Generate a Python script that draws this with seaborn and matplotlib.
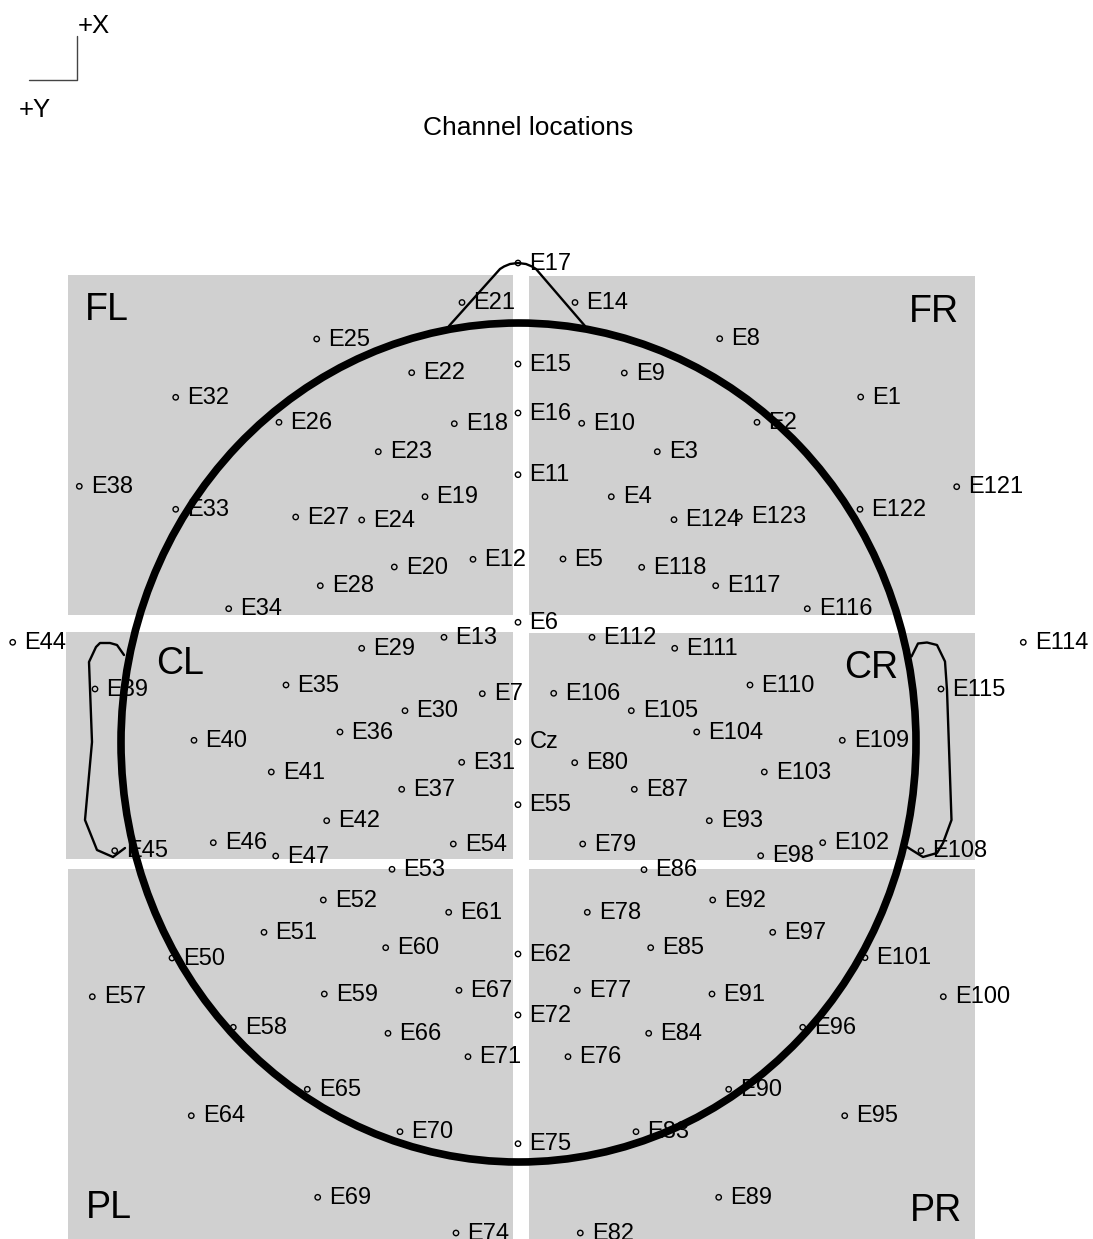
import matplotlib
matplotlib.use('Agg')
import matplotlib.pyplot as plt
import seaborn as sns
from matplotlib.patches import Rectangle, Ellipse

sns.set_style('white')
plt.rcParams['font.family'] = ['Liberation Sans', 'DejaVu Sans']
plt.rcParams['text.color'] = 'black'

############################
########## data ############
############################

# channel names and positions (image units, y pointing down)
ch_names = ['E17', 'E21', 'E14', 'E25', 'E8', 'E15', 'E22', 'E9', 'E32', 'E1',
            'E16', 'E26', 'E18', 'E10', 'E2', 'E23', 'E3', 'E11', 'E38', 'E121',
            'E19', 'E4', 'E33', 'E122', 'E27', 'E24', 'E124', 'E123', 'E12', 'E5',
            'E20', 'E118', 'E28', 'E117', 'E34', 'E116', 'E6', 'E13', 'E112', 'E44',
            'E114', 'E29', 'E111', 'E35', 'E110', 'E39', 'E115', 'E7', 'E106', 'E30',
            'E105', 'E36', 'E104', 'E40', 'E109', 'Cz', 'E31', 'E80', 'E41', 'E103',
            'E37', 'E87', 'E55', 'E42', 'E93', 'E46', 'E102', 'E54', 'E79', 'E45',
            'E108', 'E47', 'E98', 'E53', 'E86', 'E52', 'E92', 'E61', 'E78', 'E51',
            'E97', 'E60', 'E85', 'E62', 'E50', 'E101', 'E67', 'E77', 'E59', 'E91',
            'E57', 'E100', 'E72', 'E58', 'E96', 'E66', 'E84', 'E71', 'E76', 'E65',
            'E90', 'E64', 'E95', 'E70', 'E83', 'E75', 'E69', 'E89', 'E74', 'E82']
ch_x = [518, 462, 575, 316.7, 719.7, 518, 411.7, 624.3, 175.7, 860.7,
        518, 279, 454.3, 581.7, 757, 378.3, 657.3, 518, 79.3, 956.7,
        425, 611.3, 175.7, 860, 295.7, 361.7, 674, 739.3, 473, 563,
        394.3, 641.7, 320.3, 715.7, 228.7, 807.3, 518, 444, 592, 12.7,
        1023.3, 361.7, 674.7, 286, 750, 95, 941, 482.3, 553.7, 405,
        631.3, 340, 696.7, 194, 842.3, 518, 461.7, 574.7, 271.3, 764.3,
        401.7, 634.3, 518, 326.7, 709.3, 213.3, 822.7, 453.3, 582.7, 114.7,
        921, 275.7, 760.7, 392, 644, 323.3, 712.7, 448.7, 587.3, 264,
        772.7, 385.7, 650.7, 518, 172, 865, 459, 577.3, 324.3, 712,
        92.3, 943.3, 518, 233.3, 802.7, 388, 648.7, 468, 568, 307.3,
        728.7, 191.3, 844.7, 400, 636, 518, 317.7, 718.7, 456, 580.3]
ch_y = [263, 302.5, 302.5, 339, 338.7, 364, 372.7, 373, 397.3, 397,
        413, 422.3, 423.7, 423.3, 422.3, 451.7, 451.7, 474.7, 486.3, 486.7,
        496.7, 496.7, 509.3, 509.3, 517, 520, 519.7, 516.7, 559.3, 559,
        567, 567.3, 585.7, 585.7, 608.7, 608.7, 622.3, 637.3, 637.3, 642.3,
        642.3, 648.3, 648.3, 685, 685, 689, 689, 693.7, 693.3, 710.7,
        710.7, 732, 732, 740.3, 740.3, 741.7, 762.3, 762.7, 772, 772,
        789.3, 789.3, 804.7, 820.7, 820.7, 842.7, 842.7, 844, 844, 850.7,
        850.7, 856, 855.7, 869.3, 869.7, 900, 900, 912.3, 912.3, 932.3,
        932.3, 947.7, 947.7, 954, 958, 957.7, 990.3, 990.3, 994, 994,
        996.7, 996.7, 1015, 1027.3, 1027.3, 1033.3, 1033.3, 1056.7, 1056.7, 1089.3,
        1089.3, 1115.7, 1115.7, 1131.7, 1131.7, 1143.7, 1197.3, 1197.3, 1233, 1233]

# grey region boxes: x0, y0, x1, y1
region_names = ['FL', 'FR', 'CL', 'CR', 'PL', 'PR']
box_x0 = [67.5, 529, 66, 528.5, 67.5, 529]
box_y0 = [275, 275.5, 631.5, 632.5, 869, 869]
box_x1 = [512.5, 974.5, 512.5, 974.5, 512.5, 974.5]
box_y1 = [615, 615, 858.5, 860, 1245, 1245]

# region label anchors (baseline)
label_x = [85, 959.5, 156, 898, 86, 962.5]
label_y = [320.5, 321.5, 674, 678, 1218.5, 1221]
label_ha = ['left', 'right', 'left', 'right', 'left', 'right']

# head outline
head_cx, head_cy = 518.5, 742.5
head_w, head_h = 795, 839
nose_x = [449, 500, 504, 510, 518, 526, 532, 536, 585]
nose_y = [326, 269, 266.5, 264, 263, 264, 266.5, 269, 326]
lear_x = [124, 117, 110, 100, 96, 89, 92, 85, 97, 113, 125]
lear_y = [655, 645, 643, 643, 647, 662, 742, 820, 850, 857, 848]
rear_x = [911.5, 918, 927, 937, 945, 947, 951.5, 943, 937, 923, 907]
rear_y = [656.5, 643.5, 642.5, 645, 661.5, 690, 820, 843, 853, 857, 847]

############################
########## plot ############
############################

fig = plt.figure(figsize=(10.93, 12.39), dpi=100)
ax = fig.add_axes([0, 0, 1, 1])
ax.set_xlim(0, 1093)
ax.set_ylim(1239, 0)
ax.axis('off')

for i in range(len(region_names)):
    ax.add_patch(Rectangle((box_x0[i], box_y0[i]), box_x1[i] - box_x0[i], box_y1[i] - box_y0[i],
                           facecolor='#d0d0d0', edgecolor='none', zorder=0))
    ax.text(label_x[i], label_y[i], region_names[i], fontsize=27, ha=label_ha[i],
            va='baseline', color='black', zorder=2)

sns.scatterplot(x=ch_x, y=ch_y, ax=ax, marker='o', s=15, facecolors='none',
                edgecolor='black', linewidth=1.0, zorder=3, legend=False)
for name, x, y in zip(ch_names, ch_x, ch_y):
    ax.annotate(name, (x, y), xytext=(8.3, -4.8), textcoords='offset points',
                fontsize=17, ha='left', va='baseline', color='black', zorder=3)

# head on top of the labels
ax.add_patch(Ellipse((head_cx, head_cy), head_w, head_h, fill=False,
                     edgecolor='black', linewidth=5.5, zorder=5))
ax.plot(nose_x, nose_y, color='black', linewidth=1.7, zorder=5)
ax.plot(lear_x, lear_y, color='black', linewidth=1.7, zorder=5)
ax.plot(rear_x, rear_y, color='black', linewidth=1.7, zorder=5)

# orientation key
ax.plot([29, 77, 77], [80, 80, 36], color='#444444', linewidth=1)
ax.text(78, 33, '+X', fontsize=18.5, ha='left', va='baseline', color='black')
ax.text(19, 117, '+Y', fontsize=18.5, ha='left', va='baseline', color='black')

ax.text(528.5, 135, 'Channel locations', fontsize=19, ha='center', va='baseline',
        color='black')

fig.savefig('out.png', dpi=100)
